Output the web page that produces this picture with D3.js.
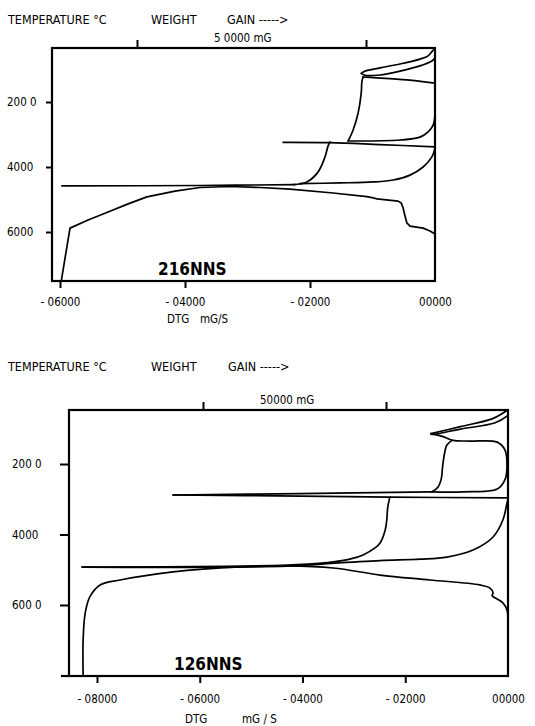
<!DOCTYPE html>
<meta charset="utf-8">
<script src="https://d3js.org/d3.v7.min.js"></script>
<style>
  body { margin: 0; background: #fff; }
  text { font-family: "DejaVu Sans Condensed", "DejaVu Sans", sans-serif; fill: #000; }
  .curve { fill: none; stroke: #000; stroke-width: 1.7; stroke-linejoin: round; stroke-linecap: round; }
  .frame { fill: none; stroke: #000; stroke-width: 2.2; }
  .axis line { stroke: #000; stroke-width: 2; }
  .axis path { display: none; }
</style>
<div id="chart"></div>
<script>

// temperature ticks (deg C) with the labels as printed
var tempTicks = [200, 400, 600];
var tempLabelsA = ["200 0", "4000", "6000"];
var tempLabelsB = ["200 0", "4000", "600 0"];

// DTG ticks (mG/S)
var dtgTicksA = [-0.6, -0.4, -0.2, 0];
var dtgLabelsA = ["- 06000", "- 04000", "- 02000", "00000"];
var dtgTicksB = [-0.8, -0.6, -0.4, -0.2, 0];
var dtgLabelsB = ["- 08000", "- 06000", "- 04000", "- 02000", "00000"];

// weight axis ticks (mG)
var weightTicks = [0, 5];
var sampleNames = ["216NNS", "126NNS"];

// 216NNS traces as [dtg, temperature]
var s216Main = [[-0.598,751],[-0.584,588],[-0.555,563],[-0.525,540],[-0.493,515],[-0.461,492],[-0.416,474],[-0.376,463],[-0.328,460],[-0.280,463],[-0.232,468],[-0.163,480],[-0.109,491],[-0.101,494],[-0.093,498],[-0.059,505],[-0.054,511],[-0.051,526],[-0.048,551],[-0.045,572],[-0.040,582],[-0.019,588],[-0.008,597],[0,606]];
var s216Spike = [[-0.597,458],[-0.376,457],[-0.224,454]];
var s216PeakRise = [[-0.227,454],[-0.205,446],[-0.187,415],[-0.176,369],[-0.171,335],[-0.168,323]];
var s216PeakReturn = [[-0.216,451],[-0.152,449],[-0.099,446],[-0.067,440],[-0.040,425],[-0.019,400],[-0.005,369],[0,342]];
var s216Shelf = [[-0.243,324],[-0.168,325],[-0.088,331],[0,338]];
var s216Rise = [[-0.139,320],[-0.131,286],[-0.123,234],[-0.118,172],[-0.117,138],[-0.115,123]];
var s216Cap = [[-0.115,123],[-0.099,125],[-0.045,132],[0,142]];
var s216Return = [[-0.139,320],[-0.056,317],[-0.024,308],[-0.011,292],[-0.003,271],[0,240]];
var s216LoopUpper = [[-0.118,112],[-0.112,105],[-0.088,95],[-0.056,83],[-0.024,68],[-0.011,58],[-0.005,45],[0,34]];
var s216LoopLower = [[-0.118,112],[-0.112,118],[-0.088,117],[-0.056,105],[-0.024,89],[-0.005,74],[0,65]];

// 126NNS traces as [dtg, temperature]
var s126Main = [[-0.827,801],[-0.827,699],[-0.823,623],[-0.814,577],[-0.794,543],[-0.755,529],[-0.652,506],[-0.522,492],[-0.430,489],[-0.340,495],[-0.249,515],[-0.152,529],[-0.055,543],[-0.035,552],[-0.029,566],[-0.031,574],[-0.021,583],[-0.010,594],[-0.002,614],[0,642]];
var s126SpikeLowUpper = [[-0.829,492.5],[-0.430,487],[-0.346,479]];
var s126SpikeLowLower = [[-0.829,492.5],[-0.430,490],[-0.346,482]];
var s126LowRise = [[-0.346,479],[-0.308,470],[-0.282,458],[-0.259,438],[-0.249,424],[-0.239,387],[-0.236,359],[-0.234,322],[-0.230,294]];
var s126LowReturn = [[-0.346,482],[-0.249,474],[-0.171,470],[-0.119,464],[-0.068,444],[-0.029,407],[-0.010,359],[-0.002,311],[0,299]];
var s126SpikeHighUpper = [[-0.652,288],[-0.405,284],[-0.148,279]];
var s126SpikeHighLower = [[-0.652,288],[-0.405,291],[-0.230,294],[0,296]];
var s126CapRise = [[-0.148,279],[-0.136,265],[-0.130,243],[-0.127,203],[-0.123,166],[-0.119,146],[-0.109,133]];
var s126Cap = [[-0.150,114],[-0.125,123],[-0.107,133],[-0.074,135],[-0.021,138],[-0.006,160],[-0.002,209],[-0.006,245],[-0.021,271],[-0.088,279],[-0.148,279]];
var s126LoopUpper = [[-0.150,114],[-0.093,94],[-0.031,72],[-0.008,54],[0,47]];
var s126LoopInner = [[-0.150,114],[-0.148,116],[-0.093,101],[-0.025,83],[-0.002,64],[0,61]];

var svg = d3.select("#chart").append("svg")
    .attr("width", 535)
    .attr("height", 726);

function drawPanel(p) {
  var g = svg.append("g");

  var x = d3.scaleLinear().domain([p.dtgTicks[0], 0]).range(p.xRange);
  var y = d3.scaleLinear().domain([200, 600]).range(p.yRange);
  var w = d3.scaleLinear().domain([0, 5]).range(p.wRange);

  // header
  g.append("text").attr("x", 8).attr("y", p.headY).attr("font-size", 12.5).text("TEMPERATURE °C");
  g.append("text").attr("x", 151).attr("y", p.headY).attr("font-size", 12.5).text("WEIGHT");
  g.append("text").attr("x", p.gainX).attr("y", p.headY).attr("font-size", 12.5).text("GAIN ----->");

  // weight axis on top
  g.append("g").attr("class", "axis")
      .attr("transform", "translate(0," + p.top + ")")
      .call(d3.axisTop(w).tickValues(weightTicks).tickSize(8).tickFormat(""));
  g.append("text").attr("x", p.weightX).attr("y", p.top - 6).attr("font-size", 11.5).text(p.weightLabel);

  // temperature axis
  var ya = g.append("g").attr("class", "axis")
      .attr("transform", "translate(" + p.left + ",0)")
      .call(d3.axisLeft(y).tickValues(tempTicks).tickSize(p.leftTick)
        .tickFormat(function(d, i) { return p.tempLabels[i]; }));
  ya.selectAll("text")
      .attr("text-anchor", "start")
      .attr("x", p.labelX - p.left)
      .attr("font-size", 11.5);

  // DTG axis
  var xa = g.append("g").attr("class", "axis")
      .attr("transform", "translate(0," + p.bottom + ")")
      .call(d3.axisBottom(x).tickValues(p.dtgTicks).tickSize(7).tickPadding(p.pad)
        .tickFormat(function(d, i) { return p.dtgLabels[i]; }));
  xa.selectAll(".tick").filter(function(d) { return d === 0; }).select("line").remove();
  xa.selectAll("text").attr("font-size", 11.5);

  g.append("text").attr("x", p.dtgX).attr("y", p.dtgY).attr("font-size", 11.5).text("DTG");
  g.append("text").attr("x", p.unitX).attr("y", p.dtgY).attr("font-size", 11.5).text(p.unitLabel);

  // frame
  g.append("rect").attr("class", "frame")
      .attr("x", p.left).attr("y", p.top)
      .attr("width", p.right - p.left).attr("height", p.bottom - p.top);
  if (p.extLeft) {
    g.append("line").attr("class", "frame")
        .attr("x1", p.extLeft).attr("x2", p.left)
        .attr("y1", p.bottom).attr("y2", p.bottom);
  }

  var smooth = d3.line()
      .x(function(d) { return x(d[0]); })
      .y(function(d) { return y(d[1]); })
      .curve(d3.curveCatmullRom.alpha(0.5));
  var sharp = d3.line()
      .x(function(d) { return x(d[0]); })
      .y(function(d) { return y(d[1]); });

  g.selectAll(".curve")
    .data(p.curves)
    .enter()
    .append("path")
      .attr("class", "curve")
      .attr("d", function(d) { return d === p.sharpCurve ? sharp(d) : smooth(d); });

  g.append("text")
      .attr("x", p.nameX).attr("y", p.nameY)
      .attr("font-family", "Liberation Sans, Arial, sans-serif")
      .attr("font-weight", "bold")
      .attr("font-size", 17)
      .text(p.name);
}

drawPanel({
  name: sampleNames[0], nameX: 158, nameY: 275,
  left: 52, right: 435, top: 48, bottom: 281,
  xRange: [60, 435], yRange: [102, 232], wRange: [137, 366],
  dtgTicks: dtgTicksA, dtgLabels: dtgLabelsA, tempLabels: tempLabelsA,
  leftTick: 6, labelX: 7, pad: 10,
  headY: 24, gainX: 227, weightX: 214, weightLabel: "5 0000   mG",
  dtgX: 167, unitX: 200, dtgY: 323, unitLabel: "mG/S",
  sharpCurve: s216Main,
  curves: [s216Main, s216Spike, s216PeakRise, s216PeakReturn, s216Shelf, s216Rise, s216Cap, s216Return, s216LoopUpper, s216LoopLower]
});

drawPanel({
  name: sampleNames[1], nameX: 174, nameY: 670,
  left: 69, right: 508, top: 410, bottom: 676, extLeft: 61,
  xRange: [97, 508], yRange: [464, 605], wRange: [203, 386],
  dtgTicks: dtgTicksB, dtgLabels: dtgLabelsB, tempLabels: tempLabelsB,
  leftTick: 9, labelX: 12, pad: 12,
  headY: 371, gainX: 228, weightX: 260, weightLabel: "50000  mG",
  dtgX: 185, unitX: 242, dtgY: 723, unitLabel: "mG / S",
  curves: [s126Main, s126SpikeLowUpper, s126SpikeLowLower, s126LowRise, s126LowReturn, s126SpikeHighUpper, s126SpikeHighLower, s126CapRise, s126Cap, s126LoopUpper, s126LoopInner]
});

</script>
